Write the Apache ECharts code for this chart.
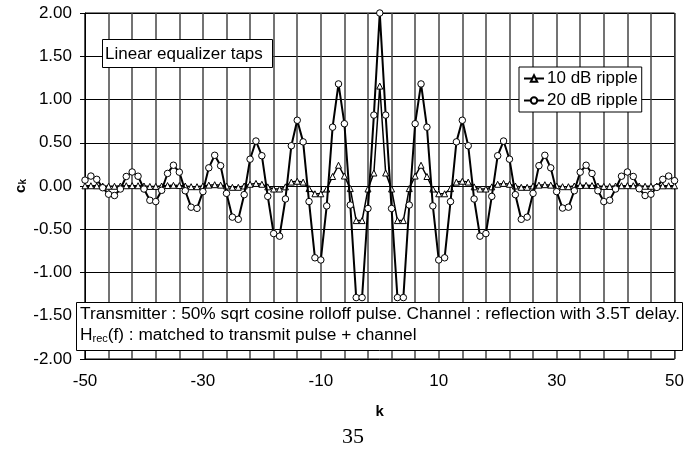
<!DOCTYPE html>
<html>
<head>
<meta charset="utf-8">
<script src="https://cdn.jsdelivr.net/npm/echarts@6/dist/echarts.min.js"></script>
<style>
  html, body { margin: 0; padding: 0; background: #fff; }
  #chart { width: 687px; height: 450px; }
</style>
</head>
<body>
<div id="chart"></div>
<script>
// Tap index k
const kValues = [
  -50, -49, -48, -47, -46, -45, -44, -43, -42, -41,
  -40, -39, -38, -37, -36, -35, -34, -33, -32, -31,
  -30, -29, -28, -27, -26, -25, -24, -23, -22, -21,
  -20, -19, -18, -17, -16, -15, -14, -13, -12, -11,
  -10, -9, -8, -7, -6, -5, -4, -3, -2, -1,
  0,
  1, 2, 3, 4, 5, 6, 7, 8, 9, 10,
  11, 12, 13, 14, 15, 16, 17, 18, 19, 20,
  21, 22, 23, 24, 25, 26, 27, 28, 29, 30,
  31, 32, 33, 34, 35, 36, 37, 38, 39, 40,
  41, 42, 43, 44, 45, 46, 47, 48, 49, 50
];

// Equalizer taps c_k, 10 dB ripple
const taps10dB = [
  0.002, 0.003, 0.002, 0.0, -0.003, -0.003, 0.0, 0.003, 0.004, 0.003,
  0.0, -0.005, -0.005, 0.0, 0.005, 0.008, 0.005, 0.0, -0.008, -0.008,
  0.0, 0.01, 0.015, 0.01, 0.0, -0.015, -0.015, 0.0, 0.02, 0.03,
  0.02, -0.01, -0.035, -0.035, -0.01, 0.045, 0.055, 0.045, -0.03, -0.09,
  -0.09, -0.035, 0.11, 0.24, 0.115, -0.03, -0.40, -0.40, -0.035, 0.15,
  1.155,
  0.15, -0.035, -0.40, -0.40, -0.03, 0.115, 0.24, 0.11, -0.035, -0.09,
  -0.09, -0.03, 0.045, 0.055, 0.045, -0.01, -0.035, -0.035, -0.01, 0.02,
  0.03, 0.02, 0.0, -0.015, -0.015, 0.0, 0.01, 0.015, 0.01, 0.0,
  -0.008, -0.008, 0.0, 0.005, 0.008, 0.005, 0.0, -0.005, -0.005, 0.0,
  0.003, 0.004, 0.003, 0.0, -0.003, -0.003, 0.0, 0.002, 0.003, 0.002
];

// Equalizer taps c_k, 20 dB ripple
const taps20dB = [
  0.068, 0.115, 0.077, -0.02, -0.095, -0.11, -0.035, 0.11, 0.162, 0.113,
  -0.035, -0.165, -0.18, -0.05, 0.145, 0.24, 0.16, -0.055, -0.245, -0.258,
  -0.065, 0.21, 0.355, 0.235, -0.085, -0.36, -0.385, -0.10, 0.31, 0.52,
  0.35, -0.12, -0.55, -0.58, -0.15, 0.465, 0.76, 0.51, -0.18, -0.83,
  -0.855, -0.23, 0.68, 1.18, 0.72, -0.22, -1.29, -1.29, -0.26, 0.82,
  2.00,
  0.82, -0.26, -1.29, -1.29, -0.22, 0.72, 1.18, 0.68, -0.23, -0.855,
  -0.83, -0.18, 0.51, 0.76, 0.465, -0.15, -0.58, -0.55, -0.12, 0.35,
  0.52, 0.31, -0.10, -0.385, -0.36, -0.085, 0.235, 0.355, 0.21, -0.065,
  -0.255, -0.245, -0.055, 0.16, 0.24, 0.145, -0.055, -0.18, -0.165, -0.035,
  0.113, 0.162, 0.11, -0.032, -0.11, -0.095, -0.016, 0.077, 0.115, 0.062
];

const seriesNames = ['10 dB ripple', '20 dB ripple'];

const FONT = '"Liberation Sans", Arial, sans-serif';

const chart = echarts.init(document.getElementById('chart'), null, { renderer: 'canvas' });

chart.setOption({
  animation: false,
  backgroundColor: '#fff',
  textStyle: { fontFamily: FONT, color: '#000' },
  grid: {
    left: 85, right: 11, top: 13, bottom: 91,
    show: true, borderColor: '#000', borderWidth: 1, backgroundColor: '#fff'
  },
  legend: {
    data: seriesNames,
    orient: 'vertical',
    left: 519, top: 67,
    padding: [3, 4, 3, 4],
    itemGap: 5,
    itemWidth: 20,
    itemHeight: 8,
    backgroundColor: '#fff',
    borderColor: '#000',
    borderWidth: 1,
    textStyle: { fontFamily: FONT, fontSize: 17, color: '#000', padding: [0, 0, 0, -2] }
  },
  xAxis: {
    type: 'category',
    data: kValues,
    boundaryGap: false,
    name: 'k',
    nameLocation: 'middle',
    nameGap: 45,
    nameTextStyle: { fontFamily: FONT, fontSize: 15, fontWeight: 'bold', color: '#000' },
    axisLine: { lineStyle: { color: '#000', width: 1 } },
    axisTick: { show: true, interval: 19, length: 4, lineStyle: { color: '#000' } },
    axisLabel: { interval: 19, margin: 14, fontFamily: FONT, fontSize: 17, color: '#000' },
    splitLine: { show: true, interval: 3, lineStyle: { color: '#444', width: 1.5 } }
  },
  yAxis: {
    type: 'value',
    min: -2, max: 2, interval: 0.5,
    axisLine: { show: true, lineStyle: { color: '#000', width: 1 } },
    axisTick: { show: true, length: 5, lineStyle: { color: '#000' } },
    axisLabel: {
      margin: 13, fontFamily: FONT, fontSize: 17, color: '#000',
      formatter: v => v.toFixed(2)
    },
    splitLine: { show: true, lineStyle: { color: '#000', width: 1 } }
  },
  series: [
    {
      name: seriesNames[0],
      type: 'line',
      data: taps10dB,
      symbol: 'triangle',
      symbolSize: 6,
      showAllSymbol: true,
      lineStyle: { color: '#000', width: 1.5 },
      itemStyle: { color: '#fff', borderColor: '#000', borderWidth: 1 },
      z: 3
    },
    {
      name: seriesNames[1],
      type: 'line',
      data: taps20dB,
      symbol: 'circle',
      symbolSize: 6.5,
      showAllSymbol: true,
      lineStyle: { color: '#000', width: 2 },
      itemStyle: { color: '#fff', borderColor: '#000', borderWidth: 1 },
      z: 4
    }
  ],
  graphic: [
    {
      type: 'rect', z: 100,
      shape: { x: 102.5, y: 39.5, width: 170, height: 28 },
      style: { fill: '#fff', stroke: '#000', lineWidth: 1 }
    },
    {
      type: 'text', z: 101, x: 105, y: 54,
      style: { text: 'Linear equalizer taps', font: '17px ' + FONT, fill: '#000', verticalAlign: 'middle' }
    },
    {
      type: 'rect', z: 100,
      shape: { x: 76.5, y: 302.5, width: 606, height: 48 },
      style: { fill: '#fff', stroke: '#000', lineWidth: 1 }
    },
    {
      type: 'text', z: 101, x: 80, y: 314,
      style: {
        text: 'Transmitter : 50% sqrt cosine rolloff pulse. Channel : reflection with 3.5T delay.',
        font: '17.3px ' + FONT, fill: '#000', verticalAlign: 'middle'
      }
    },
    {
      type: 'text', z: 101, x: 80, y: 334,
      style: {
        text: '{m|H}{s|rec}{m|(f) : matched to transmit pulse + channel}',
        fill: '#000', verticalAlign: 'middle',
        rich: {
          m: { fontFamily: FONT, fontSize: 17.3, verticalAlign: 'bottom', lineHeight: 20 },
          s: { fontFamily: FONT, fontSize: 11, verticalAlign: 'bottom', lineHeight: 18 }
        }
      }
    },
    {
      type: 'text', z: 101, x: 19, y: 186, rotation: Math.PI / 2,
      style: {
        text: '{c|c}{k|k}',
        fill: '#000', align: 'center', verticalAlign: 'middle',
        rich: {
          c: { fontFamily: FONT, fontSize: 15, fontWeight: 'bold', verticalAlign: 'bottom', lineHeight: 18 },
          k: { fontFamily: FONT, fontSize: 10, fontWeight: 'bold', verticalAlign: 'bottom', lineHeight: 14 }
        }
      }
    },
    {
      type: 'text', z: 101, x: 353, y: 437,
      style: {
        text: '35', font: '22px "Liberation Serif", "Times New Roman", serif',
        fill: '#000', align: 'center', verticalAlign: 'middle'
      }
    }
  ]
});
</script>
</body>
</html>
